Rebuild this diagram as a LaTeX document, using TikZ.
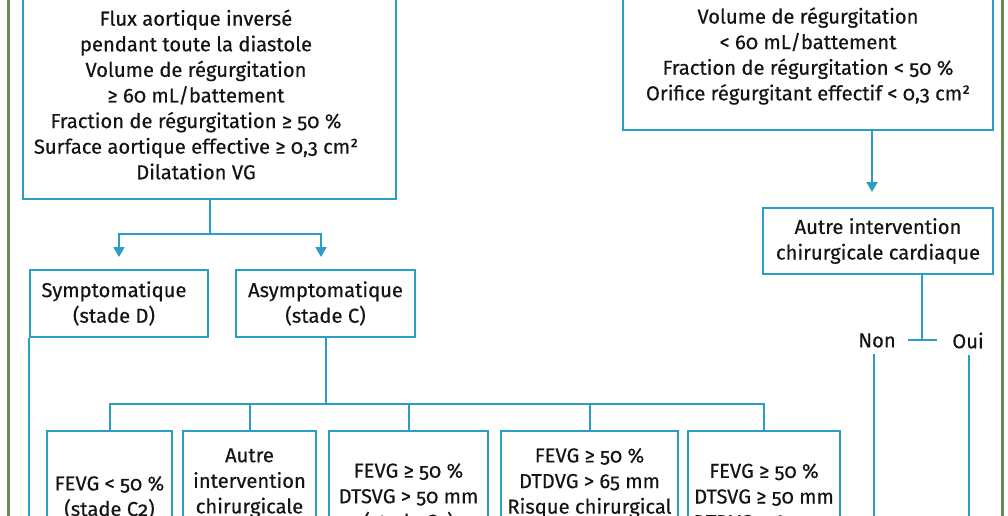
\documentclass[tikz,border=0pt]{standalone}
\usepackage{fontspec}
\setmainfont{Fira Sans}[Numbers=OldStyle,FakeBold=0.35]
\usetikzlibrary{arrows.meta,calc}
\definecolor{cblue}{RGB}{42,158,196}
\definecolor{fgreen}{RGB}{104,140,82}
\definecolor{txt}{RGB}{20,20,20}
\tikzset{
  box/.style={draw=cblue, line width=2pt, align=center, inner sep=0pt, text=txt,
    font=\fontsize{20.2pt}{25.6pt}\selectfont},
  lbl/.style={inner sep=0pt, align=center, text=txt, font=\fontsize{20.2pt}{25.6pt}\selectfont},
  conn/.style={draw=cblue, line width=2pt},
  arr/.style={conn, -{Triangle[width=11pt,length=10pt]}},
  frame/.style={draw=fgreen, line width=3pt}
}
\begin{document}
\begin{tikzpicture}[x=1pt,y=-1pt]
\useasboundingbox (0,0) rectangle (1008,516);
\clip (0,0) rectangle (1008,516);
\fill[white] (0,0) rectangle (1008,516);
% green frame
\coordinate (gl1) at (8,-20);
\coordinate (gl2) at (8,540);
\coordinate (gr1) at (1002,-20);
\coordinate (gr2) at (1002,540);
\draw[frame] (gl1) -- (gl2);
\draw[frame] (gr1) -- (gr2);
% top boxes
\node[box, minimum width=373pt, minimum height=209pt] (big) at (209.5,94.5) {};
\node[lbl] (bigt) at ([xshift=-13.5pt]big.center)
 {Flux aortique inversé\\pendant toute la diastole\\Volume de régurgitation\\≥ 60 mL/battement\\Fraction de régurgitation ≥ 50 \%\\Surface aortique effective ≥ 0,3 cm²\\Dilatation VG};
\node[box, minimum width=370pt, minimum height=148pt] (mild) at (808,56)
 {Volume de régurgitation\\< 60 mL/battement\\Fraction de régurgitation < 50 \%\\Orifice régurgitant effectif < 0,3 cm²};
\node[box, minimum width=230pt, minimum height=66pt] (autrec) at (878,241)
 {Autre intervention\\chirurgicale cardiaque};
\node[box, minimum width=178pt, minimum height=67pt] (sym) at (119,303.5) {};
\node[lbl] (symt) at ([xshift=-5pt]sym.center) {Symptomatique\\(stade D)};
\node[box, minimum width=179pt, minimum height=67pt] (asym) at (325.5,303.5)
 {Asymptomatique\\(stade C)};
% bottom boxes
\node[box, minimum width=125pt, minimum height=133pt] (b1) at (109.5,497.5)
 {FEVG < 50 \%\\(stade C2)};
\node[box, minimum width=133pt, minimum height=133pt] (b2) at (249.5,497.5)
 {Autre\\intervention\\chirurgicale\\\strut};
\node[box, minimum width=159pt, minimum height=133pt] (b3) at (408.5,497.5)
 {FEVG ≥ 50 \%\\DTSVG > 50 mm\\(stade C2)};
\node[box, minimum width=177pt, minimum height=133pt] (b4) at (589.5,497.5)
 {FEVG ≥ 50 \%\\DTDVG > 65 mm\\Risque chirurgical\\\strut};
\node[box, minimum width=152pt, minimum height=133pt] (b5) at (764,497.5)
 {FEVG ≥ 50 \%\\DTSVG ≥ 50 mm\\DTDVG > 65 mm};
% labels
\node[lbl] (non) at (877,340.5) {Non};
\node[lbl] (oui) at (968,340.5) {Oui};
% connectors left
\draw[conn] (big.south) -- ++(0,34) coordinate (bj);
\draw[arr, shorten >=12pt] (bj) -| (sym.north);
\draw[arr, shorten >=12pt] (bj) -| ([xshift=-4.5pt]asym.north);
\draw[conn] (sym.south west) -- ++(0,250);
\draw[conn] (asym.south) -- ++(0,66) coordinate (aj);
\draw[conn] (b1.north) |- (aj) -| (b5.north);
\draw[conn] (b2.north) -- (b2.north |- aj);
\draw[conn] (b3.north) -- (b3.north |- aj);
\draw[conn] (b4.north) -- (b4.north |- aj);
% connectors right
\draw[arr, shorten >=15pt] ([xshift=64pt]mild.south) -- ([xshift=-6pt]autrec.north);
\coordinate (tj) at (922,340);
\draw[conn] ([xshift=44pt]autrec.south) -- (tj);
\draw[conn] ([xshift=-14pt]tj) -- ([xshift=15pt]tj);
\draw[conn] ([xshift=-3pt,yshift=-6pt]non.south) -- ++(0,250);
\draw[conn] ([xshift=1pt,yshift=-6pt]oui.south) -- ++(0,250);
\end{tikzpicture}
\end{document}
